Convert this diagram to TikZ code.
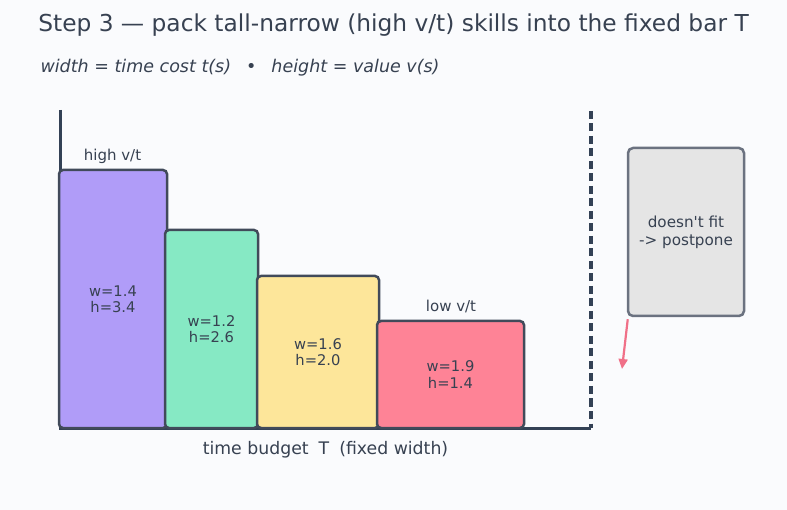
\documentclass[tikz,border=0pt]{standalone}
\usepackage{fontspec}
\setmainfont{DejaVu Sans}[Ligatures=TeXOff]
\usetikzlibrary{arrows.meta}
\definecolor{bg}{HTML}{FAFBFD}
\definecolor{ink}{HTML}{374151}
\definecolor{axisc}{HTML}{334155}
\definecolor{edgec}{HTML}{414A5A}
\definecolor{cpurple}{HTML}{B09CF8}
\definecolor{cgreen}{HTML}{86E9C4}
\definecolor{cyellow}{HTML}{FDE69A}
\definecolor{cred}{HTML}{FE8396}
\definecolor{cgrey}{HTML}{E5E5E5}
\definecolor{greyedge}{HTML}{6B7280}
\definecolor{arrowc}{HTML}{F07088}
\begin{document}
\begin{tikzpicture}[x=1pt,y=-1pt,
  barbox/.style={draw=edgec, line width=2.5pt, rounded corners=4pt, inner sep=0pt,
    text=ink, align=center, font=\fontsize{14.7}{16.2}\selectfont},
  axisline/.style={draw=axisc, line width=3pt},
  lbl/.style={text=ink, anchor=base, font=\fontsize{15}{18}\selectfont}]
\fill[bg] (0,0) rectangle (787,510);
\useasboundingbox (0,0) rectangle (787,510);
% title
\node[anchor=base, text=ink, font=\fontsize{23.3}{28}\selectfont] (title) at (393.5,32) {Step 3 — pack tall-narrow (high v/t) skills into the fixed bar T};
\node[anchor=base west, text=ink, font=\fontsize{17.5}{21}\selectfont\itshape] (sub) at (37,73) {width = time cost t(s)\hspace{15pt}•\hspace{15pt}height = value v(s)};
% axes
\coordinate (ytop) at (60,110);
\coordinate (origin) at (60,428);
\coordinate (xend) at (591,428);
\coordinate (dtop) at (591,111);
\draw[axisline, line cap=butt] (ytop) -- (origin) -- (xend);
\draw[axisline, line width=3.5pt, dash pattern=on 8pt off 4.5pt] (dtop) -- (xend);
% bars
\node[barbox, fill=cpurple, minimum width=108pt, minimum height=258pt] (b1) at (113,299) {w=1.4\\h=3.4};
\node[barbox, fill=cgreen, minimum width=93pt, minimum height=198pt] (b2) at (211.5,329) {w=1.2\\h=2.6};
\node[barbox, fill=cyellow, minimum width=122pt, minimum height=152pt] (b3) at (318,352) {w=1.6\\h=2.0};
\node[barbox, fill=cred, minimum width=147pt, minimum height=107pt] (b4) at (450.5,374.5) {w=1.9\\h=1.4};
% labels
\node[lbl] (hi) at (112.5,161) {high v/t};
\node[lbl] (lo) at (451,311.5) {low v/t};
\node[anchor=base, text=ink, font=\fontsize{17.3}{20}\selectfont] (xlab) at (325.5,454) {time budget\hspace{10pt}T\hspace{10pt}(fixed width)};
% postponed box
\node[draw=greyedge, fill=cgrey, line width=2.5pt, rounded corners=5pt, minimum width=116pt, minimum height=168pt,
  text=ink, align=center, font=\fontsize{15.2}{18}\selectfont] (g) at (686,232) {doesn't fit\\-> postpone};
\coordinate (tip) at (622,369);
\draw[arrowc, line width=2.2pt, -{Triangle[length=10pt,width=9pt]}] ([xshift=1pt,yshift=-2pt]g.south west) -- (tip);
\end{tikzpicture}
\end{document}
